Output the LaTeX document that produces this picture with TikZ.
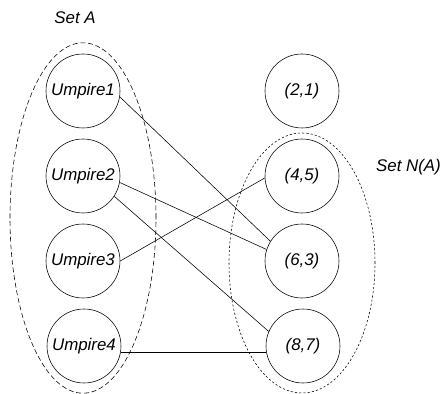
\documentclass[tikz,border=0pt]{standalone}
\usepackage{fontspec}
\setmainfont{Liberation Sans}
\tikzset{
  vertex/.style={draw,circle,minimum size=1.85cm,inner sep=0pt,font=\itshape\fontsize{12}{14}\selectfont},
  setlabel/.style={font=\itshape\fontsize{12}{14}\selectfont},
}
\begin{document}
\begin{tikzpicture}
      \useasboundingbox (0,0) rectangle (11,9.85);
      % the two sets
      \draw[dash pattern=on 3.5pt off 2pt] (2.075,4.4) ellipse (1.825 and 4.38);
      \draw[dash pattern=on 1.5pt off 1.5pt] (7.55,3.275) ellipse (1.825 and 3.25);
      \node[setlabel] (seta) at (1.875,9.4) {Set A};
      \node[setlabel,anchor=west] (setna) at (9.28,5.675) {Set N(A)};
      % umpires on the left, pairs on the right
      \draw
        (2.075,7.575) node[vertex] (u1){Umpire1}
        (2.075,5.45) node[vertex] (u2){Umpire2}
        (2.075,3.325) node[vertex] (u3){Umpire3}
        (2.1,1.2) node[vertex] (u4){Umpire4}
        (7.55,7.575) node[vertex] (p21){(2,1)}
        (7.55,5.45) node[vertex] (p45){(4,5)}
        (7.55,3.325) node[vertex] (p63){(6,3)}
        (7.575,1.2) node[vertex] (p87){(8,7)};
      \begin{scope}[-]
        \draw (u1.-9) to (p63.148);
        \draw (u2.-10) to (p63.162);
        \draw (u2.-33) to (p87.157);
        \draw (u3.0) to (p45.183);
        \draw (u4.-9) to (p87.189);
      \end{scope}
    \end{tikzpicture}
\end{document}
